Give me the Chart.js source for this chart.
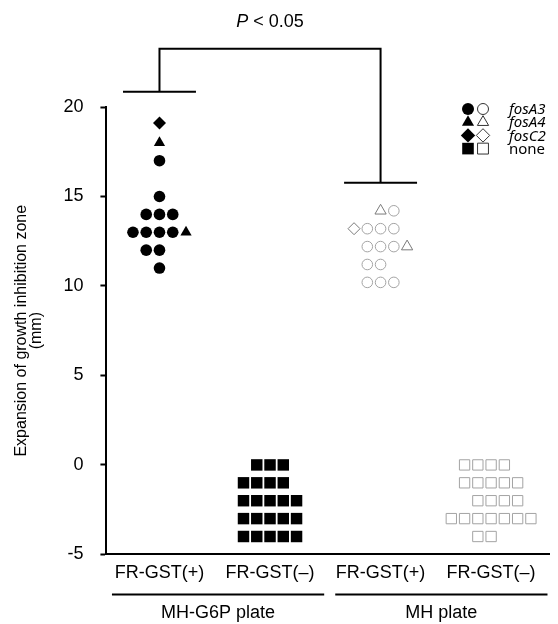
<!DOCTYPE html>
<html>
<head>
<meta charset="utf-8">
<script src="https://cdn.jsdelivr.net/npm/chart.js@4.4.1/dist/chart.umd.min.js"></script>
<style>
html,body{margin:0;padding:0;background:#fff;}
#wrap{width:558px;height:624px;position:relative;}
</style>
</head>
<body>
<div id="wrap"><canvas id="c" width="558" height="624"></canvas></div>
<script>
// ---- categories / labels ----
const categories = ['FR-GST(+)', 'FR-GST(–)', 'FR-GST(+)', 'FR-GST(–)'];
const plates = ['MH-G6P plate', 'MH plate'];
const yTicks = [-5, 0, 5, 10, 15, 20];
const legendLabels = ['fosA3', 'fosA4', 'fosC2', 'none'];
const pText = 'P < 0.05';

// ---- MH-G6P plate, FR-GST(+) (filled markers) ----
const g6pPos_fosA3 = [17, 15, 14, 14, 14, 13, 13, 13, 13, 12, 12, 11];
const g6pPos_fosA3_slot = [0, 0, -1, 0, 1, -2, -1, 0, 1, -1, 0, 0];
const g6pPos_fosA4 = [18, 13];
const g6pPos_fosA4_slot = [0, 2];
const g6pPos_fosC2 = [19.1];
const g6pPos_fosC2_slot = [0];

// ---- MH-G6P plate, FR-GST(-) ----
const g6pNeg_none = [0, 0, 0, -1, -1, -1, -1, -2, -2, -2, -2, -2, -3, -3, -3, -3, -3, -4, -4, -4, -4, -4];
const g6pNeg_none_slot = [-1, 0, 1, -2, -1, 0, 1, -2, -1, 0, 1, 2, -2, -1, 0, 1, 2, -2, -1, 0, 1, 2];

// ---- MH plate, FR-GST(+) (open markers) ----
const mhPos_fosA3 = [14.2, 13.2, 13.2, 13.2, 12.2, 12.2, 12.2, 11.2, 11.2, 10.2, 10.2, 10.2];
const mhPos_fosA3_slot = [1, -1, 0, 1, -1, 0, 1, -1, 0, -1, 0, 1];
const mhPos_fosA4 = [14.2, 12.2];
const mhPos_fosA4_slot = [0, 2];
const mhPos_fosC2 = [13.2];
const mhPos_fosC2_slot = [-2];

// ---- MH plate, FR-GST(-) ----
const mhNeg_none = [0, 0, 0, 0, -1, -1, -1, -1, -1, -2, -2, -2, -2, -3, -3, -3, -3, -3, -3, -3, -4, -4];
const mhNeg_none_slot = [-2, -1, 0, 1, -2, -1, 0, 1, 2, -1, 0, 1, 2, -3, -2, -1, 0, 1, 2, 3, -1, 0];

// ---- significance bracket (data units) ----
const bracketCats = [1, 3];
const bracketLegY = [20.85, 15.77];
const bracketTopY = 23.25;

const SLOT_W = 0.12;
function pts(cat, ys, slots) {
  return ys.map((y, i) => ({ x: cat + slots[i] * SLOT_W, y: y }));
}

const BLACK = '#000000';
const GREY = '#a3a3a3';
const GREY2 = '#7a7a7a';
const FONT = '"Liberation Sans", Arial, sans-serif';

const datasets = [
  { data: pts(1, g6pPos_fosA3, g6pPos_fosA3_slot), pointStyle: 'circle', pointRadius: 5.8, backgroundColor: BLACK, borderColor: BLACK, borderWidth: 0 },
  { data: pts(1, g6pPos_fosA4, g6pPos_fosA4_slot), pointStyle: 'triangle', pointRadius: 6.5, backgroundColor: BLACK, borderColor: BLACK, borderWidth: 0 },
  { data: pts(1, g6pPos_fosC2, g6pPos_fosC2_slot), pointStyle: 'rectRot', pointRadius: 6.5, backgroundColor: BLACK, borderColor: BLACK, borderWidth: 0 },
  { data: pts(2, g6pNeg_none, g6pNeg_none_slot), pointStyle: 'rect', pointRadius: 8.1, backgroundColor: BLACK, borderColor: BLACK, borderWidth: 0 },
  { data: pts(3, mhPos_fosA3, mhPos_fosA3_slot), pointStyle: 'circle', pointRadius: 5.3, backgroundColor: '#fff', borderColor: GREY, borderWidth: 1 },
  { data: pts(3, mhPos_fosA4, mhPos_fosA4_slot), pointStyle: 'triangle', pointRadius: 6.5, backgroundColor: '#fff', borderColor: GREY2, borderWidth: 1 },
  { data: pts(3, mhPos_fosC2, mhPos_fosC2_slot), pointStyle: 'rectRot', pointRadius: 6, backgroundColor: '#fff', borderColor: GREY2, borderWidth: 1 },
  { data: pts(4, mhNeg_none, mhNeg_none_slot), pointStyle: 'rect', pointRadius: 7.3, backgroundColor: '#fff', borderColor: GREY, borderWidth: 1 }
].map(d => Object.assign({ showLine: false, pointHoverRadius: d.pointRadius, clip: false }, d));

const decor = {
  id: 'decor',
  afterDraw(chart) {
    const ctx = chart.ctx;
    const xs = chart.scales.x, ys = chart.scales.y;
    const ca = chart.chartArea;
    ctx.save();
    // bracket
    ctx.strokeStyle = '#000';
    ctx.lineWidth = 2;
    ctx.lineCap = 'butt';
    const half = 0.33;
    const topPx = ys.getPixelForValue(bracketTopY);
    const xL = xs.getPixelForValue(bracketCats[0]);
    const xR = xs.getPixelForValue(bracketCats[1]);
    ctx.beginPath();
    bracketCats.forEach((c, i) => {
      const py = ys.getPixelForValue(bracketLegY[i]);
      ctx.moveTo(xs.getPixelForValue(c - half), py);
      ctx.lineTo(xs.getPixelForValue(c + half), py);
    });
    ctx.moveTo(xL, ys.getPixelForValue(bracketLegY[0]));
    ctx.lineTo(xL, topPx);
    ctx.lineTo(xR, topPx);
    ctx.lineTo(xR, ys.getPixelForValue(bracketLegY[1]));
    ctx.stroke();
    // P text
    ctx.fillStyle = '#000';
    ctx.textBaseline = 'middle';
    const pFontI = 'italic 18px ' + FONT;
    const pFont = '18px ' + FONT;
    ctx.font = pFontI;
    const wP = ctx.measureText('P').width;
    ctx.font = pFont;
    const rest = pText.slice(1);
    const wR = ctx.measureText(rest).width;
    const cx = (xL + xR) / 2;
    const startX = cx - (wP + wR) / 2;
    ctx.textAlign = 'left';
    ctx.font = pFontI;
    ctx.fillText('P', startX, topPx - 27);
    ctx.font = pFont;
    ctx.fillText(rest, startX + wP, topPx - 27);
    // group lines & labels
    const spans = [[0.57, 2.49], [2.59, 4.51]];
    ctx.lineWidth = 2;
    ctx.beginPath();
    spans.forEach(s => {
      ctx.moveTo(xs.getPixelForValue(s[0]), ca.bottom + 40);
      ctx.lineTo(xs.getPixelForValue(s[1]), ca.bottom + 40);
    });
    ctx.stroke();
    ctx.textAlign = 'center';
    ctx.font = '18px ' + FONT;
    spans.forEach((s, i) => {
      ctx.fillText(plates[i], (xs.getPixelForValue(s[0]) + xs.getPixelForValue(s[1])) / 2, ca.bottom + 59);
    });
    // legend
    const styles = ['circle', 'triangle', 'rectRot', 'rect'];
    const radii = [6, 7, 7.2, 8.2];
    const lx1 = 468, lx2 = 483, ltx = 509;
    let ly = 109;
    styles.forEach((st, i) => {
      ctx.fillStyle = '#000';
      ctx.strokeStyle = '#000';
      Chart.helpers.drawPoint(ctx, { pointStyle: st, radius: radii[i], rotation: 0, borderWidth: 0 }, lx1, ly);
      ctx.fillStyle = '#fff';
      ctx.strokeStyle = '#333';
      ctx.lineWidth = 1;
      Chart.helpers.drawPoint(ctx, { pointStyle: st, radius: radii[i] - 0.5, rotation: 0, borderWidth: 1 }, lx2, ly);
      ctx.fillStyle = '#000';
      ctx.textAlign = 'left';
      ctx.font = (i < 3 ? 'italic ' : '') + '15px "Noto Sans", sans-serif';
      ctx.fillText(legendLabels[i], ltx, ly + 1);
      ly += 13.2;
    });
    ctx.restore();
  }
};

new Chart(document.getElementById('c'), {
  type: 'scatter',
  data: { datasets: datasets },
  options: {
    responsive: false,
    animation: false,
    events: [],
    layout: { padding: { top: 107, left: 11, right: 6, bottom: 32 } },
    plugins: { legend: { display: false }, tooltip: { enabled: false } },
    scales: {
      x: {
        type: 'linear', min: 0.52, max: 4.53,
        grid: { display: false, drawTicks: false },
        border: { display: true, color: '#000', width: 2 },
        afterBuildTicks: s => { s.ticks = categories.map((c, i) => ({ value: i + 1 })); },
        ticks: {
          color: '#000', font: { family: FONT, size: 18 }, padding: 8, maxRotation: 0, autoSkip: false,
          callback: (v, i) => categories[i]
        }
      },
      y: {
        type: 'linear', min: -5, max: 20,
        grid: { display: true, drawOnChartArea: false, drawTicks: true, tickLength: 6, color: '#000', tickColor: '#000', tickWidth: 2 },
        border: { display: true, color: '#000', width: 2 },
        afterBuildTicks: s => { s.ticks = yTicks.map(v => ({ value: v })); },
        ticks: { color: '#000', font: { family: FONT, size: 18 }, padding: 17 },
        title: {
          display: true,
          text: ['Expansion of growth inhibition zone', '(mm)'],
          color: '#000',
          font: { family: FONT, size: 16, lineHeight: 0.95 },
          padding: { top: 3, bottom: 2 }
        }
      }
    }
  },
  plugins: [decor]
});
</script>
</body>
</html>
